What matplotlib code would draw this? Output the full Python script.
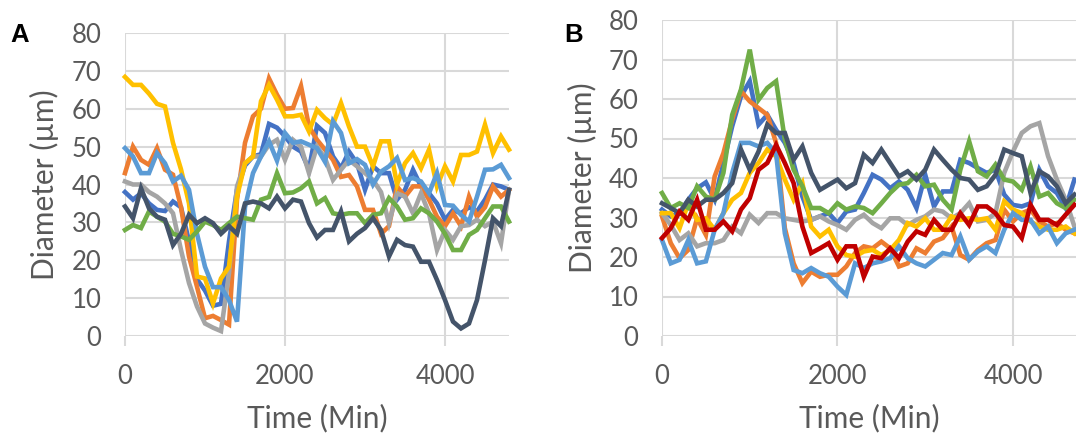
import matplotlib
matplotlib.use("Agg")
import matplotlib.pyplot as plt

# ---------------- data ----------------
time_a = list(range(0, 4900, 100))   # 49 points, 0..4800 min
time_b = list(range(0, 4800, 100))   # 48 points, 0..4700 min

a_blue = [38, 36, 37.7, 35, 33.3, 33, 35.5, 34, 25, 15, 12, 8, 8.5, 25, 38.6,
          45, 47.4, 48, 56, 55, 52.7, 50, 48.7, 44, 55.5, 53.6, 47.4, 44.3, 48.7, 45.6,
          38.6, 44.8, 43, 43, 36, 38.6, 43.9, 39.5, 37.7, 35, 30.7, 33.3, 32.4, 34, 32.9,
          36, 40, 39.5, 38.6]
a_orange = [43, 50, 46.5, 45.2, 49.6, 43.9, 42.6, 34, 21, 13, 4.7, 5.3, 4.2, 3, 36,
            51, 58, 60, 68, 63.7, 60, 60.2, 66, 55.3, 51.8, 49.2, 46.5, 42, 42.5, 39.5,
            33.3, 33.3, 27, 29, 39.5, 36.8, 39.5, 39.5, 36, 31.5, 29, 32.4, 29, 36.8, 31.5,
            34, 39.5, 36.8, 38.6]
a_gray = [40.8, 40, 40, 38, 36.8, 35, 32.4, 22.7, 14, 7.8, 3.3, 2.2, 1.3, 16.6, 39.5,
          45.6, 47.4, 47.4, 50.5, 51.8, 46.5, 51.8, 50, 43, 50, 47, 41.2, 43.9, 46.5, 44.8,
          43, 41.2, 38, 29.8, 37.7, 36.8, 32.4, 37.7, 32.4, 22.7, 28, 25.4, 29, 29.3, 30.7,
          29, 30.2, 24.5, 38.6]
a_yellow = [68.4, 66.3, 66.3, 64, 61.3, 60.6, 51, 44, 35, 15.7, 15.2, 8.6, 15.2, 18.3, 36.8,
            45.6, 47.4, 62, 66.3, 62.4, 58, 58, 58.4, 54, 59.7, 57.5, 55.8, 61.5, 55.3, 50,
            50, 44.8, 51.4, 51.4, 40, 45.6, 48.3, 44.3, 49.2, 39.5, 44.8, 40.8, 47.8, 47.8, 48.7,
            55.8, 48.3, 52.7, 49.2]
a_lightblue = [49.6, 47.4, 43, 43, 48.3, 45.6, 40.8, 42.3, 38.6, 27, 18.3, 12.9, 12.9, 9.5, 3.8,
               34, 43, 47.4, 51.4, 46.3, 53.6, 51, 51.4, 50.5, 49.6, 46, 56.7, 53.6, 45.6, 46.7,
               45.2, 40, 43.4, 44.8, 47, 41.2, 41.7, 40.8, 37.7, 43, 34.6, 34.4, 32, 30.2, 36.8,
               43.9, 44, 45.2, 41.7]
a_green = [28, 29.3, 28.5, 32.9, 31.5, 30.2, 27, 26.3, 25.4, 27.6, 30.2, 29.3, 28, 29.8, 31.5,
           31.1, 30.7, 36, 36.7, 43, 37.7, 37.9, 39, 40.8, 35, 36.4, 32.4, 32, 32.4, 32.4,
           29.8, 32, 32.4, 36.4, 34.2, 30.7, 31.1, 33.7, 32.4, 30.2, 27, 22.7, 22.7, 26.7, 28,
           31.1, 34.2, 34.2, 30.2]
a_navy = [34.2, 31.1, 39, 33.7, 31.5, 30.7, 24, 27, 32, 29.8, 31.1, 29.8, 27, 29, 27,
          35, 35.5, 35, 33.7, 36.8, 33.7, 36, 35.5, 29.8, 26, 28, 28, 32.9, 25, 27,
          28.5, 31.1, 28, 21, 25.4, 24, 23.6, 19.6, 19.6, 14.8, 9.5, 3.8, 2, 3.3, 9.5,
          20, 31.1, 29, 38.6]

b_blue = [32, 30.3, 31.1, 34.5, 37.4, 38.9, 34.5, 43.8, 53.1, 60.7, 64.5, 53.5, 56, 52.2, 48.9,
          43.8, 35.3, 29.4, 30.3, 31.1, 28.6, 31.5, 32, 36.2, 40.8, 39.6, 37.4, 39.1, 37, 32.4,
          40.8, 32.8, 36.6, 36.6, 44.6, 43.8, 42.5, 41.3, 42.1, 35.8, 33.2, 32.8, 33.6, 42.1, 37.9,
          36.2, 32.4, 39.6]
b_orange = [30.3, 23.5, 19.7, 21.8, 29.8, 25.6, 40.4, 46.3, 54.8, 62, 59.4, 57.7, 56, 48.9, 27.3,
            18.4, 13.4, 16.3, 15, 15.5, 15.5, 17.6, 21, 22.7, 22.2, 23.9, 22.2, 17.6, 18.4, 22.2,
            21, 23.9, 24.8, 27.7, 20.5, 19.3, 21.8, 23.5, 24.3, 32, 29, 31.1, 32, 29, 27.7,
            28.6, 26.9, 26]
b_gray = [31.1, 28.1, 24.3, 26, 22.7, 23.5, 23.5, 24.3, 27.7, 26, 30.7, 28.6, 31.1, 31.1, 29.8,
          29.4, 29, 29.4, 30.3, 29, 28.1, 26.9, 29.4, 30.7, 28.6, 27.3, 29.8, 29.8, 28.1, 29.4,
          30.3, 32, 31.5, 29.8, 31.1, 33.6, 29, 29.4, 31.1, 41.3, 46.7, 51.4, 53.1, 53.9, 45.5,
          39.6, 34.5, 27.7]
b_yellow = [31.1, 31.1, 27.3, 33.6, 29.4, 29.8, 26.9, 31.1, 34.5, 36.2, 41.3, 43.8, 47.2, 45.5, 39.6,
            34.5, 38.7, 27.7, 25.2, 26.9, 22.7, 20.5, 20.1, 21.4, 21.8, 20.5, 21.8, 24.3, 28.6, 27.7,
            29.8, 26.9, 26.9, 30.3, 29.4, 29.8, 29.4, 29.8, 26.9, 34.1, 32, 31.1, 29, 27.7, 26.9,
            26.9, 27.7, 26]
b_lightblue = [24.3, 18.4, 19.3, 24.3, 18.4, 18.9, 26.9, 31.1, 41.3, 48.9, 48.9, 48, 48.9, 46.3, 26,
               16.7, 15.9, 17.2, 15.9, 15, 12.5, 10.4, 18.4, 17.2, 18.4, 18.9, 19.7, 22.7, 19.7, 18.4,
               17.6, 19.3, 21, 20.5, 25.2, 19.3, 21.4, 22.7, 21, 26.9, 31.1, 29.4, 29.4, 26, 27.7,
               23.5, 26, 26.9]
b_green = [36.2, 32.4, 33.6, 32.4, 37.9, 35.3, 34.5, 41.3, 56, 62.4, 72.5, 59.8, 62.8, 64.5, 49.7,
           42.1, 37.9, 32.4, 32.4, 31.1, 33.6, 32, 32.8, 32.4, 31.1, 33.6, 36.2, 38.3, 38.7, 40.8,
           37.9, 38.3, 34.5, 32, 42.1, 49.3, 41.7, 40.4, 43.4, 39.6, 39.1, 37, 42.9, 35.3, 36.2,
           33.6, 32.4, 34.5]
b_navy = [33.6, 32.4, 31.1, 34.5, 32.8, 34.5, 34.5, 36.2, 38.7, 47.2, 42.1, 46.7, 53.5, 51.4, 51.4,
          44.6, 48, 41.3, 37, 38.3, 39.6, 37.4, 38.7, 45.9, 43.8, 47.2, 43.8, 40.4, 41.7, 39.6,
          42.1, 47.2, 44.6, 42.1, 40, 39.6, 37, 37.9, 40.8, 47.2, 46.3, 45.5, 36.2, 41.7, 40.4,
          37.9, 33.6, 35.8]
b_red = [24.8, 27.3, 31.5, 29.4, 34.5, 26.9, 26.9, 29, 26.5, 32, 34.9, 42.1, 43.8, 48.4, 43.8,
         38.7, 27.7, 21, 22.2, 23.5, 19.3, 22.7, 22.7, 15, 20.1, 19.7, 22.2, 19.7, 23.9, 26.5,
         25.6, 29.4, 26.9, 26.9, 31.1, 28.1, 32.8, 32.8, 31.1, 28.1, 27.7, 24.8, 33.2, 29.4, 29.4,
         28.1, 30.7, 33.2]

y_ticks = [0, 10, 20, 30, 40, 50, 60, 70, 80]
x_ticks = [0, 2000, 4000]

C_BLUE, C_ORANGE, C_GRAY, C_YELLOW = "#4472C4", "#ED7D31", "#A5A5A5", "#FFC000"
C_LBLUE, C_GREEN, C_NAVY, C_RED = "#5B9BD5", "#70AD47", "#44546A", "#C00000"

series_a = [(a_blue, C_BLUE), (a_orange, C_ORANGE), (a_gray, C_GRAY), (a_yellow, C_YELLOW),
            (a_lightblue, C_LBLUE), (a_green, C_GREEN), (a_navy, C_NAVY)]
series_b = [(b_blue, C_BLUE), (b_orange, C_ORANGE), (b_gray, C_GRAY), (b_yellow, C_YELLOW),
            (b_lightblue, C_LBLUE), (b_green, C_GREEN), (b_navy, C_NAVY), (b_red, C_RED)]

FONT = ["Lato", "DejaVu Sans"]
TXT = "#595959"
W, H = 1076, 433

fig = plt.figure(figsize=(W / 100, H / 100), dpi=100)


def make_axes(px_left, px_right, px_top, px_bottom, xmax, times, series,
              letter, letter_x, ylab_x):
    ax = fig.add_axes([px_left / W, 1 - px_bottom / H, (px_right - px_left) / W,
                       (px_bottom - px_top) / H])
    for vals, col in series:
        ax.plot(times, vals, color=col, lw=3.3, solid_joinstyle="miter", clip_on=False)
    ax.set_xlim(0, xmax)
    ax.set_ylim(0, 80)
    ax.set_xticks(x_ticks)
    ax.set_yticks(y_ticks)
    ax.grid(True, color="#D9D9D9", lw=1.5)
    ax.set_axisbelow(True)
    for s in ax.spines.values():
        s.set_visible(False)
    ax.tick_params(axis="x", length=7, width=1.5, color="#D9D9D9", pad=13,
                   labelsize=18.5, labelcolor=TXT)
    ax.tick_params(axis="y", length=0, pad=17, labelsize=18.5, labelcolor=TXT)
    for lab in ax.get_xticklabels() + ax.get_yticklabels():
        lab.set_family(FONT)
    cx = (px_left + px_right) / 2
    fig.text(cx / W, 1 - 418 / H, "Time (Min)", fontsize=21.5, color=TXT, family=FONT,
             ha="center", va="center")
    cy = (px_top + px_bottom) / 2
    fig.text(ylab_x / W, 1 - cy / H, "Diameter (µm)", fontsize=21.5, color=TXT,
             family=FONT, rotation=90, ha="center", va="center")
    fig.text(letter_x / W, 1 - 35 / H, letter, fontsize=18.5, fontweight="bold",
             color="black", family=["Liberation Sans", "DejaVu Sans"], va="center")
    return ax


axA = make_axes(125, 509, 33, 336, 4800, time_a, series_a, "A", 10, 44)
axB = make_axes(662, 1076, 20, 336, 4718, time_b, series_b, "B", 564, 582)

fig.savefig("out.png", dpi=100)
